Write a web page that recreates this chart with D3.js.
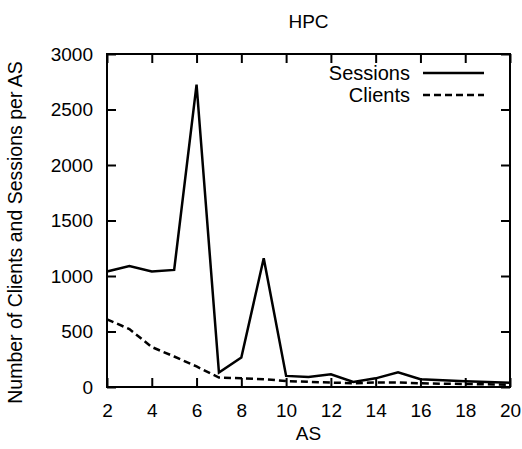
<!DOCTYPE html>
<html>
<head>
<meta charset="utf-8">
<script src="https://cdn.jsdelivr.net/npm/d3@7"></script>
<style>
  body { margin: 0; background: #fff; }
  svg text { font-family: "Liberation Sans", Arial, sans-serif; fill: #000; }
</style>
</head>
<body>
<div id="chart"></div>
<script>
// AS rank on the x axis
const asRank = [2, 3, 4, 5, 6, 7, 8, 9, 10, 11, 12, 13, 14, 15, 16, 17, 18, 19, 20];
const sessions = [1040, 1090, 1040, 1055, 2725, 130, 265, 1160, 100, 90, 115, 45, 78, 132, 70, 60, 52, 45, 38];
const clients = [610, 522, 360, 275, 185, 85, 78, 70, 54, 46, 40, 34, 40, 40, 33, 30, 27, 24, 20];
const xTicks = [2, 4, 6, 8, 10, 12, 14, 16, 18, 20];
const yTicks = [0, 500, 1000, 1500, 2000, 2500, 3000];

const W = 522, H = 449;
const margin = { top: 54, right: 12, bottom: 62, left: 107 };
const width = W - margin.left - margin.right;
const height = H - margin.top - margin.bottom;

const svg = d3.select('#chart').append('svg')
    .attr('width', W).attr('height', H);
const plot = svg.append('g')
    .attr('transform', `translate(${margin.left},${margin.top})`);

const xScale = d3.scaleLinear().domain([2, 20]).range([0, width]);
const yScale = d3.scaleLinear().domain([0, 3000]).range([height, 0]);

// axes with inward ticks, mirrored on top/right like gnuplot
const tick = 9;
plot.append('g').attr('transform', `translate(0,${height})`)
    .call(d3.axisBottom(xScale).tickValues(xTicks).tickSize(-tick).tickPadding(17).tickFormat(d3.format('d')));
plot.append('g')
    .call(d3.axisTop(xScale).tickValues(xTicks).tickSize(-tick).tickFormat(''));
plot.append('g')
    .call(d3.axisLeft(yScale).tickValues(yTicks).tickSize(-tick).tickPadding(14).tickFormat(d3.format('d')));
plot.append('g').attr('transform', `translate(${width},0)`)
    .call(d3.axisRight(yScale).tickValues(yTicks).tickSize(-tick).tickFormat(''));

plot.selectAll('.domain').remove();
plot.selectAll('.tick line').attr('stroke', '#000').attr('stroke-width', 2);
plot.selectAll('.tick text').style('font-size', '19px');

plot.append('rect')
    .attr('width', width).attr('height', height)
    .attr('fill', 'none').attr('stroke', '#000').attr('stroke-width', 2);

const lineGen = d3.line()
    .x((d, i) => xScale(asRank[i]))
    .y(d => yScale(d));

plot.append('path').datum(clients)
    .attr('fill', 'none').attr('stroke', '#000').attr('stroke-width', 2.5)
    .attr('stroke-dasharray', '7,4')
    .attr('d', lineGen);
plot.append('path').datum(sessions)
    .attr('fill', 'none').attr('stroke', '#000').attr('stroke-width', 2.5)
    .attr('stroke-linejoin', 'miter')
    .attr('d', lineGen);

// legend
const legend = [
    { name: 'Sessions', dash: null },
    { name: 'Clients', dash: '7,4' }
];
const lg = svg.append('g').attr('transform', 'translate(410,73)');
legend.forEach((d, i) => {
    lg.append('text')
        .attr('x', 0).attr('y', i * 22 + 7)
        .attr('text-anchor', 'end')
        .style('font-size', '20px')
        .text(d.name);
    lg.append('line')
        .attr('x1', 13).attr('x2', 74)
        .attr('y1', i * 22).attr('y2', i * 22)
        .attr('stroke', '#000').attr('stroke-width', 2.5)
        .attr('stroke-dasharray', d.dash);
});

// titles
svg.append('text')
    .attr('x', margin.left + width / 2).attr('y', 28)
    .attr('text-anchor', 'middle').style('font-size', '19px')
    .text('HPC');
svg.append('text')
    .attr('x', margin.left + width / 2).attr('y', 440)
    .attr('text-anchor', 'middle').style('font-size', '19px')
    .text('AS');
svg.append('text')
    .attr('transform', `translate(22,${margin.top + height / 2 + 12}) rotate(-90)`)
    .attr('text-anchor', 'middle').style('font-size', '19.5px')
    .text('Number of Clients and Sessions per AS');
</script>
</body>
</html>
